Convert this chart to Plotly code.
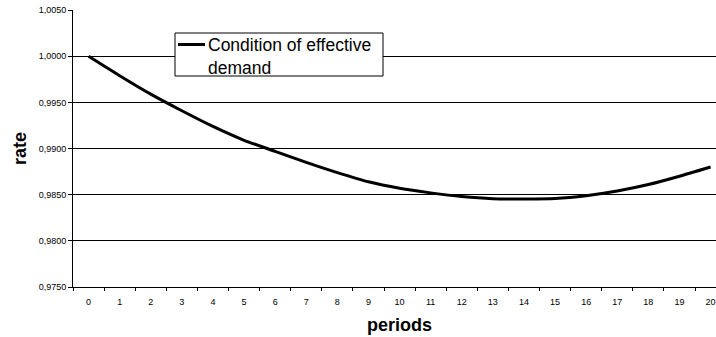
import plotly.graph_objects as go

# Period index and the rate under the condition of effective demand
periods = [str(p) for p in range(21)]
rate = [1.0000, 0.9979, 0.9959, 0.9941, 0.9924, 0.9909, 0.9897, 0.9885,
        0.9874, 0.9864, 0.9857, 0.9852, 0.9848, 0.98457, 0.98455, 0.9846,
        0.9849, 0.9854, 0.9861, 0.9870, 0.9880]
series_name = "Condition of effective demand"
legend_lines = ["Condition of effective", "demand"]

y_ticks = [0.9750, 0.9800, 0.9850, 0.9900, 0.9950, 1.0000, 1.0050]

W, H = 716, 337
ML, MR, MT, MB = 73, 0, 10, 50
PW, PH = W - ML - MR, H - MT - MB


def px(x):
    return (x - ML) / PW


def py(y):
    return (H - MB - y) / PH


FONT = "Arial, Liberation Sans, sans-serif"

fig = go.Figure()
fig.add_trace(go.Scatter(
    x=periods, y=rate, mode="lines", name=series_name,
    line=dict(color="black", width=3, shape="spline", smoothing=0.6),
    showlegend=False, hoverinfo="x+y",
))

# Boxed key in the upper part of the plot
shapes = [
    dict(type="rect", xref="paper", yref="paper",
         x0=px(175), x1=px(383), y0=py(76), y1=py(33),
         line=dict(color="black", width=1), fillcolor="white", layer="above"),
    dict(type="line", xref="paper", yref="paper",
         x0=px(178), x1=px(205), y0=py(44.5), y1=py(44.5),
         line=dict(color="black", width=3), layer="above"),
]
annotations = [
    dict(text="<br>".join(legend_lines), xref="paper", yref="paper",
         x=px(207), y=py(34), xanchor="left", yanchor="top", align="left",
         showarrow=False, borderpad=0,
         font=dict(family=FONT, size=17.5, color="black")),
    dict(text="<b>periods</b>", xref="paper", yref="paper",
         x=px(399.5), y=py(325), xanchor="center", yanchor="middle",
         showarrow=False, font=dict(family=FONT, size=18, color="black")),
    dict(text="<b>rate</b>", xref="paper", yref="paper",
         x=px(20), y=py(149), xanchor="center", yanchor="middle",
         textangle=-90, showarrow=False,
         font=dict(family=FONT, size=18, color="black")),
]

fig.update_layout(
    width=W, height=H,
    margin=dict(l=ML, r=MR, t=MT, b=MB, pad=0),
    paper_bgcolor="white", plot_bgcolor="white",
    separators=",.",
    font=dict(family=FONT, size=9, color="black"),
    shapes=shapes, annotations=annotations,
    xaxis=dict(
        type="category", range=[-0.5, 20.175],
        tickson="boundaries", ticks="outside", ticklen=3,
        tickcolor="black", tickwidth=1, ticklabelstandoff=6,
        showline=True, linecolor="black", linewidth=1,
        showgrid=False, zeroline=False,
        tickfont=dict(family=FONT, size=9, color="black"),
    ),
    yaxis=dict(
        range=[0.9750, 1.00502], tickvals=y_ticks, tickformat=".4f",
        ticks="outside", ticklen=4, tickcolor="black", tickwidth=1,
        showline=True, linecolor="black", linewidth=1,
        showgrid=True, gridcolor="black", gridwidth=1,
        zeroline=False,
        tickfont=dict(family=FONT, size=9, color="black"),
    ),
)

fig.write_html("out.html")
